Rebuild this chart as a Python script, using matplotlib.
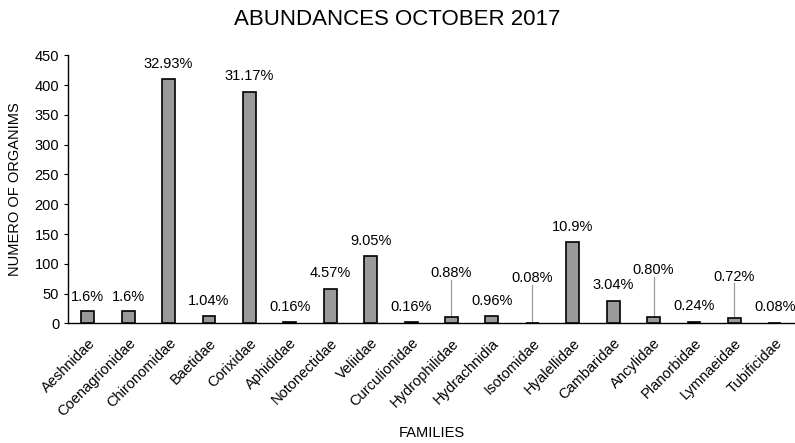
import matplotlib.pyplot as plt
import numpy as np

plt.rcParams['font.family'] = ['Liberation Sans', 'DejaVu Sans']

families = ['Aeshnidae', 'Coenagrionidae', 'Chironomidae', 'Baetidae', 'Corixidae',
            'Aphididae', 'Notonectidae', 'Veliidae', 'Curculionidae', 'Hydrophilidae',
            'Hydrachnidia', 'Isotomidae', 'Hyalellidae', 'Cambaridae', 'Ancylidae',
            'Planorbidae', 'Lymnaeidae', 'Tubificidae']
counts = [20, 20, 411, 13, 389, 2, 57, 113, 2, 11, 12, 1, 136, 38, 10, 3, 9, 1]
percents = ['1.6%', '1.6%', '32.93%', '1.04%', '31.17%', '0.16%', '4.57%', '9.05%',
            '0.16%', '0.88%', '0.96%', '0.08%', '10.9%', '3.04%', '0.80%', '0.24%',
            '0.72%', '0.08%']

# where each percentage label sits (data units), and which ones get a leader line
label_y = [45, 45, 436, 37, 415, 27, 84, 138, 27, 84, 37, 76, 162, 64, 89, 30, 78, 27]
leader = [9, 11, 14, 16]

fig = plt.figure(figsize=(7.95, 4.43), dpi=100)
ax = fig.add_axes([0.085, 0.27, 0.915, 0.605])

x = np.arange(len(families))
ax.bar(x, counts, width=0.32, color='#9a9a9a', edgecolor='black', linewidth=1.2, zorder=3)

for i in range(len(families)):
    ax.text(x[i], label_y[i], percents[i], ha='center', va='center', fontsize=10.5)
    if i in leader:
        ax.plot([x[i], x[i]], [counts[i], label_y[i] - 11], color='#999999', lw=0.9, zorder=2)

ax.set_xlim(-0.5, len(families) - 0.5)
ax.set_ylim(0, 450)
ax.set_yticks(np.arange(0, 451, 50))
ax.set_xticks(x)
ax.set_xticklabels(families, rotation=45, ha='right', rotation_mode='anchor', fontsize=10.5)
ax.tick_params(axis='x', length=0, pad=9)
ax.tick_params(axis='y', length=3, labelsize=10.5, pad=3)
for s in ['top', 'right']:
    ax.spines[s].set_visible(False)
ax.spines['left'].set_linewidth(1.0)
ax.spines['bottom'].set_linewidth(1.0)

ax.set_ylabel('NUMERO OF ORGANIMS', fontsize=10.5)
ax.yaxis.set_label_coords(-0.062, 0.5)
fig.text(0.543, 0.023, 'FAMILIES', ha='center', va='center', fontsize=10.5)
fig.text(0.5, 0.955, 'ABUNDANCES OCTOBER 2017', ha='center', va='center', fontsize=16)

fig.savefig('out.png', dpi=100)
